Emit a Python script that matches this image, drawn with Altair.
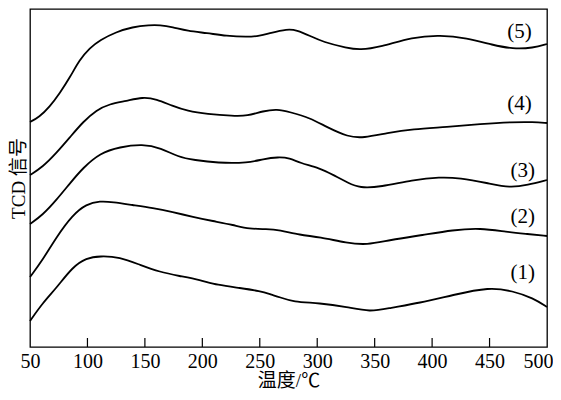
import altair as alt
import pandas as pd

FONT = "Liberation Serif, Noto Sans CJK SC"

# Temperature (°C) and TCD signal (arbitrary units)
t5 = [50, 58, 67, 76, 85, 93, 102, 111, 125, 139, 154, 163, 174, 187, 204, 221, 239, 250, 259, 274, 282, 294, 305, 326, 337, 355, 383, 407, 430, 453, 470, 488, 500]
s5 = [225, 230, 240, 254, 270, 287, 299, 307, 315, 320, 322, 322, 320, 316, 314, 311, 310, 311, 314, 318, 317, 311, 305, 299, 297, 300, 310, 312, 309, 302, 298, 299, 303]

t4 = [50, 61, 73, 85, 96, 108, 119, 134, 148, 160, 174, 187, 204, 227, 239, 253, 265, 276, 294, 308, 327, 340, 361, 383, 413, 442, 470, 488, 500]
s4 = [172, 180, 194, 210, 225, 237, 243, 246, 250, 248, 241, 236, 233, 231, 231, 236, 238, 235, 229, 220, 210, 209, 214, 218, 220, 223, 225, 225, 224]

t3 = [50, 61, 73, 85, 96, 111, 128, 148, 164, 179, 193, 213, 240, 253, 266, 276, 285, 302, 314, 327, 337, 355, 383, 407, 424, 448, 468, 483, 500]
s3 = [123, 132, 147, 164, 179, 194, 200, 203, 199, 190, 187, 184, 184, 188, 190, 189, 184, 179, 172, 164, 159, 160, 167, 170, 169, 164, 159, 162, 167]

t2 = [50, 61, 73, 87, 99, 111, 122, 139, 157, 174, 192, 209, 227, 241, 256, 267, 285, 302, 326, 343, 363, 392, 418, 442, 465, 483, 500]
s2 = [70, 87, 110, 132, 143, 146, 145, 142, 139, 135, 130, 126, 122, 118, 118, 117, 112, 110, 104, 102, 107, 112, 117, 119, 115, 113, 111]

t1 = [50, 61, 73, 87, 99, 111, 128, 146, 163, 180, 198, 213, 233, 250, 261, 267, 279, 302, 326, 346, 363, 389, 418, 450, 470, 488, 500]
s1 = [26, 44, 59, 80, 89, 91, 90, 82, 75, 71, 67, 62, 59, 56, 52, 50, 45, 44, 40, 35, 39, 44, 52, 60, 56, 49, 40]

series_names = ["(1)", "(2)", "(3)", "(4)", "(5)"]
label_t = [479, 479, 479, 476, 476]
label_s = [74, 130, 176, 243, 315]

x_ticks = [50, 100, 150, 200, 250, 300, 350, 400, 450, 500]

rows = []
for name, ts, ss in zip(series_names, [t1, t2, t3, t4, t5], [s1, s2, s3, s4, s5]):
    for t, s in zip(ts, ss):
        rows.append({"series": name, "T": t, "signal": s})
df = pd.DataFrame(rows)
labels_df = pd.DataFrame({"label": series_names, "T": label_t, "signal": label_s})
ticks_df = pd.DataFrame({"T": x_ticks[1:-1]})

x_scale = alt.Scale(domain=[50, 500], nice=False, zero=False)
y_scale = alt.Scale(domain=[0, 338], nice=False, zero=False)

lines = alt.Chart(df).mark_line(color="black", strokeWidth=1.8, interpolate="basis").encode(
    x=alt.X("T:Q", scale=x_scale,
            axis=alt.Axis(title="温度/℃", values=x_ticks, ticks=False, domain=False, grid=False,
                          labelFlush=False, labelOverlap=False, labelPadding=4,
                          labelAlign={"condition": {"test": "datum.value >= 500", "value": "right"}, "value": "center"},
                          labelOffset={"condition": {"test": "datum.value >= 500", "value": 6}, "value": 0},
                          labelFont=FONT, labelFontSize=20, labelColor="black",
                          titleFont=FONT, titleFontSize=19, titleFontWeight="normal",
                          titleColor="black", titlePadding=0)),
    y=alt.Y("signal:Q", scale=y_scale,
            axis=alt.Axis(title="TCD 信号", ticks=False, labels=False, domain=False, grid=False,
                          titleFont=FONT, titleFontSize=19, titleFontWeight="normal",
                          titleColor="black", titlePadding=2)),
    detail="series:N",
)

tick_marks = alt.Chart(ticks_df).mark_rule(color="black", strokeWidth=1.2).encode(
    x=alt.X("T:Q", scale=x_scale),
    y=alt.value(338),
    y2=alt.value(329),
)

texts = alt.Chart(labels_df).mark_text(font=FONT, fontSize=21, color="black",
                                       align="center", baseline="middle").encode(
    x=alt.X("T:Q", scale=x_scale),
    y=alt.Y("signal:Q", scale=y_scale),
    text="label:N",
)

chart = alt.layer(lines, tick_marks, texts).properties(
    width=517, height=338,
    autosize=alt.AutoSizeParams(type="none"),
    padding={"left": 22, "top": 1, "right": 6, "bottom": 45},
    background="white",
).configure_view(stroke="black", strokeWidth=1.3)

chart.save("out.html", embed_options={"renderer": "svg", "actions": False})
